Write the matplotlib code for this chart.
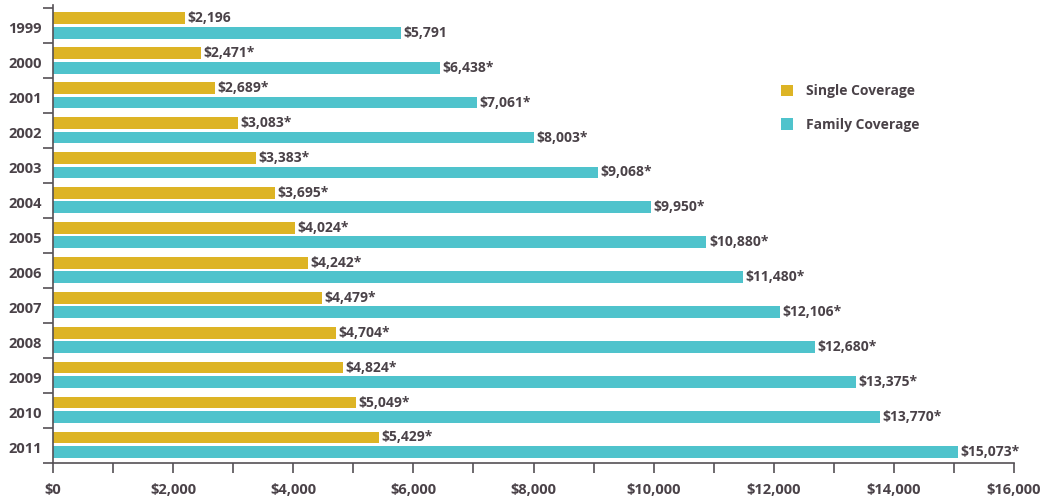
import numpy as np
import matplotlib.pyplot as plt

# data
years = ['1999', '2000', '2001', '2002', '2003', '2004', '2005',
         '2006', '2007', '2008', '2009', '2010', '2011']
single = [2196, 2471, 2689, 3083, 3383, 3695, 4024, 4242, 4479, 4704, 4824, 5049, 5429]
family = [5791, 6438, 7061, 8003, 9068, 9950, 10880, 11480, 12106, 12680, 13375, 13770, 15073]
starred = [False] + [True] * 12

GOLD = '#DDB425'
TEAL = '#4FC3CC'
TXT = '#4a4248'

plt.rcParams['font.family'] = ['Open Sans', 'DejaVu Sans']
plt.rcParams['font.weight'] = 'bold'

fig = plt.figure(figsize=(10.44, 4.98), dpi=100)
ax = fig.add_axes([53 / 1044, 35 / 498, (1014 - 53) / 1044, 458 / 498])

y = np.arange(len(years))
h = 0.34
ax.barh(y - 0.23, single, height=h, color=GOLD, label='Single Coverage')
ax.barh(y + 0.19, family, height=h, color=TEAL, label='Family Coverage')

for i in range(len(years)):
    star = '*' if starred[i] else ''
    ax.text(single[i] + 40, y[i] - 0.23, f'${single[i]:,}{star}', va='center', ha='left',
            fontsize=10, fontweight='bold', color=TXT)
    ax.text(family[i] + 40, y[i] + 0.19, f'${family[i]:,}{star}', va='center', ha='left',
            fontsize=10, fontweight='bold', color=TXT)

ax.set_xlim(0, 16000)
ax.set_ylim(12.5, -0.6)

ax.set_xticks(np.arange(0, 16001, 1000))
ax.set_xticklabels([f'${v:,}' if v % 2000 == 0 else '' for v in range(0, 16001, 1000)])
ax.set_yticks(np.arange(-0.5, 13, 1), minor=True)
ax.set_yticks(y + 0.05)
ax.set_yticklabels(years)
ax.tick_params(axis='y', which='major', length=0, pad=8, labelsize=10.5, labelcolor=TXT)
ax.tick_params(axis='y', which='minor', length=7, width=1.2, color='#555055')
ax.tick_params(axis='x', length=7.5, width=1.2, color='#555055', pad=7, labelsize=10.5, labelcolor=TXT)
for lab in ax.get_xticklabels() + ax.get_yticklabels():
    lab.set_fontweight('bold')

for s in ['top', 'right']:
    ax.spines[s].set_visible(False)
for s in ['left', 'bottom']:
    ax.spines[s].set_color('#555055')
    ax.spines[s].set_linewidth(1.2)

leg = ax.legend(loc='upper left', bbox_to_anchor=(768 / 1044, 1 - 72 / 498), bbox_transform=fig.transFigure,
                frameon=False, handlelength=0.9, handleheight=0.9, handletextpad=0.9, labelspacing=1.4,
                prop={'size': 10, 'weight': 'bold'})
for t in leg.get_texts():
    t.set_color(TXT)

fig.savefig('out.png', dpi=100)
